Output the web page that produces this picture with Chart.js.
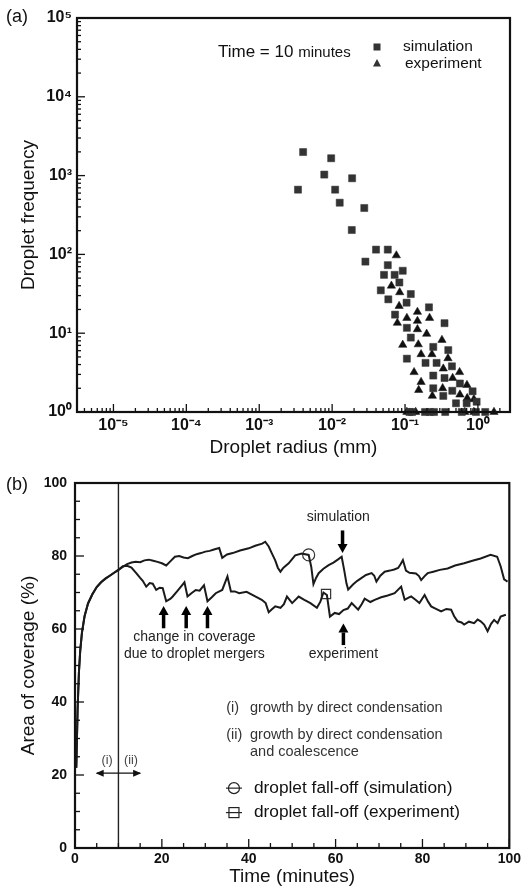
<!DOCTYPE html>
<html><head><meta charset="utf-8">
<script src="https://cdn.jsdelivr.net/npm/chart.js@4/dist/chart.umd.min.js"></script>
<style>
html,body{margin:0;padding:0;background:#fff;}
#wrap{position:relative;width:524px;height:890px;}
canvas{position:absolute;left:0;}
#ca{top:0}
#cb{top:465px}
</style></head><body>
<div id="wrap"><canvas id="ca" width="524" height="465"></canvas><canvas id="cb" width="524" height="425"></canvas></div>
<script>
const FONT = '"Liberation Sans", Arial, Helvetica, sans-serif';

// ---------- Panel (a) data ----------
const radiusTickValues = [1e-5, 1e-4, 1e-3, 1e-2, 1e-1, 1];
const radiusTickLabels = ['10⁻⁵', '10⁻⁴', '10⁻³', '10⁻²', '10⁻¹', '10⁰'];
const freqTickValues = [1, 10, 100, 1000, 10000, 100000];
const freqTickLabels = ['10⁰', '10¹', '10²', '10³', '10⁴', '10⁵'];

const simRadius = [0.0040, 0.0097, 0.0078, 0.0188, 0.0034, 0.011, 0.0127, 0.0276, 0.0186, 0.040, 0.058, 0.0286, 0.058, 0.0515, 0.072, 0.093, 0.0836, 0.0465, 0.12, 0.059, 0.105, 0.213, 0.073, 0.348, 0.106, 0.12, 0.244, 0.392, 0.106, 0.191, 0.271, 0.44, 0.244, 0.348, 0.566, 0.244, 0.445, 0.845, 0.335, 0.5, 0.7, 0.96, 0.115, 0.125, 0.188, 0.22, 0.25, 0.356, 0.60, 0.94, 1.26];
const simFreq   = [1990, 1660, 1030, 925, 663, 663, 453, 388, 204, 115, 115, 81, 73, 55, 55, 62, 44, 35, 31.4, 26.9, 24.4, 21.3, 17.2, 13.4, 11.7, 8.8, 6.7, 6.1, 4.75, 4.2, 4.2, 3.8, 2.9, 2.7, 2.3, 2.0, 1.86, 1.83, 1.6, 1.29, 1.29, 1.35, 1, 1, 1, 1, 1, 1, 1, 1, 1];
const expRadius = [0.076, 0.065, 0.0845, 0.083, 0.148, 0.106, 0.217, 0.0785, 0.148, 0.148, 0.198, 0.321, 0.093, 0.152, 0.166, 0.234, 0.388, 0.335, 0.133, 0.56, 0.45, 0.166, 0.707, 0.328, 0.154, 0.237, 0.566, 0.713, 0.88, 0.106, 0.14, 0.66, 0.88, 1.66];
const expFreq   = [97, 40, 33, 22.1, 18.6, 15.6, 15.6, 13.5, 14.3, 11.2, 9.8, 8.2, 7.1, 7.2, 5.4, 5.4, 4.8, 3.55, 3.2, 3.2, 2.7, 2.4, 2.2, 2.0, 1.9, 1.6, 1.66, 1.5, 1.45, 1, 1, 1, 1, 1];

// ---------- Panel (b) data ----------
const timeTickValues = [0, 20, 40, 60, 80, 100];
const coverTickValues = [0, 20, 40, 60, 80, 100];

const simTime = [0.3, 0.6, 0.9, 1.2, 1.6, 2.2, 3, 4, 5, 6, 7, 8, 9, 10, 11, 12, 13, 14, 15, 16, 17, 18, 19, 20, 21, 22, 23, 24, 25, 26, 27, 28, 29, 30, 31, 32, 33.2, 33.9, 35, 36.3, 38, 40, 41.5, 43.1, 43.8, 44.6, 45.3, 46.1, 46.7, 47.3, 48, 49.2, 50.7, 52.2, 53.8, 54.4, 54.9, 55.5, 56.1, 57.2, 58.4, 59.5, 60.5, 61.4, 62, 62.5, 62.9, 64, 65, 66, 67, 68.3, 68.9, 69.4, 70.3, 71.3, 72.5, 73.5, 74.4, 75, 75.5, 76.2, 77, 78.5, 79.2, 79.7, 80.5, 81.2, 82.5, 84, 85.8, 87.5, 89.6, 91.5, 93.4, 95.7, 97.2, 98, 98.8, 99.6];
const simCover = [22, 38, 48, 54, 59, 63.5, 67, 69.5, 71.5, 72.8, 73.8, 74.6, 75.4, 76.2, 77, 77.8, 78.2, 78.4, 78.3, 78.8, 79, 78.7, 78.4, 78, 77.4, 78.6, 79.8, 80, 79.6, 79.4, 80, 80.5, 80.8, 81.2, 81.4, 81.8, 82.2, 79.5, 80.4, 80.8, 81.5, 82.1, 82.8, 83.4, 83.9, 82.6, 80.8, 78.8, 76.8, 75.7, 76.8, 78, 80.2, 80.7, 80.3, 77, 72.3, 74, 75.3, 76.5, 77.5, 78.2, 79, 79.8, 76, 72.5, 70.8, 72.2, 73.2, 74, 74.8, 75.3, 74.6, 73, 74.6, 75.7, 76, 76.3, 76.7, 77.8, 78.9, 76, 75.4, 75.2, 74.5, 73.4, 74.5, 75.3, 75.7, 76.2, 76.6, 77.4, 78, 78.7, 79.3, 80.3, 79.8, 77.2, 73.6, 73];

const expTime = [0.3, 0.6, 0.9, 1.2, 1.6, 2.2, 3, 4, 5, 6, 7, 8, 9, 10, 11, 12, 13, 14.1, 15, 15.6, 16.4, 17.2, 17.9, 18.7, 19.5, 20.2, 21, 22, 22.5, 23.5, 24.4, 25.2, 25.9, 26.8, 27.8, 28.7, 29.7, 30.5, 31.5, 32.4, 33.9, 35.1, 35.9, 36.8, 37.8, 39.5, 41.6, 43, 43.9, 44.6, 45.4, 46.1, 47.3, 48.1, 48.8, 50, 51.5, 52.8, 54.2, 55.7, 56.5, 57.2, 58, 58.7, 59.8, 60.8, 61.8, 62.8, 63.7, 65.2, 66, 66.7, 68, 69, 70.5, 72, 73.6, 75.1, 75.9, 76.8, 77.4, 78.4, 79.3, 80.5, 81.3, 82, 83, 84.3, 85.5, 86.6, 87.3, 88.1, 89, 89.6, 90.7, 91.9, 92.7, 93.4, 94.2, 95, 95.8, 96.5, 97.3, 98, 99.2];
const expCover = [22, 38, 48, 54, 59, 63.5, 67, 69.5, 71.5, 72.8, 73.8, 74.6, 75.4, 76.2, 77.2, 77.3, 76.8, 75.3, 74, 73.2, 71.6, 72.6, 72.4, 70.7, 71.3, 71.2, 67.6, 68.3, 68.9, 70.3, 71.6, 72.8, 68.9, 69.8, 70.7, 70.5, 72, 67.6, 68.7, 69.8, 70.7, 74.4, 70.3, 70.3, 69.8, 70.2, 68.9, 68, 67.1, 64.6, 65.5, 66.2, 65.8, 66.8, 68.9, 67.1, 68.9, 68, 67.1, 65.8, 67.5, 70, 69.3, 63.4, 64.4, 64.1, 65.2, 65.6, 67.1, 65.3, 66.8, 68.3, 67.4, 68, 68.7, 69.2, 69.8, 71.6, 68, 68.6, 68.9, 68, 67.1, 69.3, 67.5, 66.2, 65.6, 64.8, 65.5, 65.3, 63.5, 62.1, 61.8, 61.2, 62, 61.6, 62.6, 62.1, 61.2, 59.4, 61.4, 62.5, 61.6, 63.4, 63.9];

const fallOffSim = [{x: 53.8, y: 80.3}];
const fallOffExp = [{x: 57.8, y: 69.6}];
const boundaryTime = 10;

// ---------- helpers ----------
function logTicks(min, max) {
  const out = [];
  for (let e = Math.floor(Math.log10(min)) - 1; e <= Math.ceil(Math.log10(max)); e++) {
    for (let m = 1; m <= 9; m++) {
      const v = m * Math.pow(10, e);
      if (v >= min * 0.9999 && v <= max * 1.0001) out.push({v, major: m === 1});
    }
  }
  return out;
}
function labelFor(values, labels, value) {
  const i = values.findIndex(v => Math.abs(Math.log10(v) - Math.log10(value)) < 1e-6);
  return i >= 0 ? labels[i] : '';
}
function arrow(ctx, x, yFrom, yTo) {
  const dir = yTo < yFrom ? -1 : 1;
  const head = 9;
  ctx.save();
  ctx.strokeStyle = '#000'; ctx.fillStyle = '#000';
  ctx.lineWidth = 3.5;
  ctx.beginPath(); ctx.moveTo(x, yFrom); ctx.lineTo(x, yTo - dir * head); ctx.stroke();
  ctx.beginPath();
  ctx.moveTo(x, yTo);
  ctx.lineTo(x - 5, yTo - dir * head);
  ctx.lineTo(x + 5, yTo - dir * head);
  ctx.closePath(); ctx.fill();
  ctx.restore();
}
function txt(ctx, s, x, y, size, align, color, weight) {
  ctx.font = (weight || '') + ' ' + size + 'px ' + FONT;
  ctx.textAlign = align || 'left';
  ctx.textBaseline = 'middle';
  ctx.fillStyle = color || '#111';
  ctx.fillText(s, x, y);
}

const titleFont = {family: FONT, size: 19};
const tickFont = {family: FONT, size: 14, weight: 'bold'};
const logTickFont = {family: FONT, size: 16, weight: 'bold'};

// ---------- Panel (a) ----------
const decoA = {
  id: 'decoA',
  afterDraw(chart) {
    const {ctx, chartArea: ca, scales: {x, y}} = chart;
    ctx.save();
    ctx.strokeStyle = '#111'; ctx.lineWidth = 1.3;
    logTicks(x.min, x.max).forEach(t => {
      const p = x.getPixelForValue(t.v);
      ctx.beginPath(); ctx.moveTo(p, ca.bottom); ctx.lineTo(p, ca.bottom - (t.major ? 8 : 4)); ctx.stroke();
    });
    logTicks(y.min, y.max).forEach(t => {
      const p = y.getPixelForValue(t.v);
      ctx.beginPath(); ctx.moveTo(ca.left, p); ctx.lineTo(ca.left + (t.major ? 8 : 4), p); ctx.stroke();
    });
    ctx.lineWidth = 2.2; ctx.strokeStyle = '#111';
    ctx.strokeRect(ca.left, ca.top, ca.right - ca.left, ca.bottom - ca.top);
    txt(ctx, '(a)', 6, 17, 18, 'left', '#111');
    txt(ctx, 'Time = 10', 218, 52, 17, 'left', '#111');
    ctx.font = '17px ' + FONT;
    const w = ctx.measureText('Time = 10 ').width;
    txt(ctx, 'minutes', 218 + w, 53, 15, 'left', '#111');
    // legend
    ctx.fillStyle = '#333';
    ctx.fillRect(373.5, 43.5, 7, 7);
    ctx.beginPath(); ctx.moveTo(377, 59); ctx.lineTo(381, 66.5); ctx.lineTo(373, 66.5); ctx.closePath(); ctx.fill();
    txt(ctx, 'simulation', 403, 47, 15.5, 'left', '#111');
    txt(ctx, 'experiment', 405, 64, 15.5, 'left', '#111');
    ctx.restore();
  }
};

new Chart(document.getElementById('ca'), {
  type: 'scatter',
  data: {
    datasets: [
      {label: 'simulation', data: simRadius.map((r, i) => ({x: r, y: simFreq[i]})),
       pointStyle: 'rect', pointRadius: 5, backgroundColor: '#333', borderColor: '#333', borderWidth: 0.5, clip: false},
      {label: 'experiment', data: expRadius.map((r, i) => ({x: r, y: expFreq[i]})),
       pointStyle: 'triangle', pointRadius: 4.8, backgroundColor: '#111', borderColor: '#111', borderWidth: 0.5, clip: false}
    ]
  },
  options: {
    responsive: false, animation: false,
    layout: {padding: {top: 18, right: 14, left: 0, bottom: 0}},
    plugins: {legend: {display: false}, tooltip: {enabled: false}},
    scales: {
      x: {
        type: 'logarithmic', min: Math.pow(10, -5.5), max: Math.pow(10, 0.44),
        afterBuildTicks: s => { s.ticks = radiusTickValues.map(v => ({value: v})); },
        afterFit: s => { s.height = 53; },
        grid: {display: false, drawTicks: false}, border: {display: false},
        ticks: {autoSkip: false, maxRotation: 0, padding: 4, color: '#111', font: logTickFont,
                callback: v => labelFor(radiusTickValues, radiusTickLabels, v)},
        title: {display: true, text: 'Droplet radius (mm)', color: '#111', font: titleFont, padding: {top: 0, bottom: 6}}
      },
      y: {
        type: 'logarithmic', min: 1, max: 100000,
        afterBuildTicks: s => { s.ticks = freqTickValues.map(v => ({value: v})); },
        afterFit: s => { s.width = 77; },
        grid: {display: false, drawTicks: false}, border: {display: false},
        ticks: {autoSkip: false, padding: 5, color: '#111', font: logTickFont,
                callback: v => labelFor(freqTickValues, freqTickLabels, v)},
        title: {display: true, text: 'Droplet frequency', color: '#111', font: titleFont, padding: {top: 17, bottom: 0}}
      }
    }
  },
  plugins: [decoA]
});

// ---------- Panel (b) ----------
const decoB = {
  id: 'decoB',
  afterDraw(chart) {
    const {ctx, chartArea: ca, scales: {x, y}} = chart;
    const X = v => x.getPixelForValue(v), Y = v => y.getPixelForValue(v);
    ctx.save();
    ctx.strokeStyle = '#111'; ctx.lineWidth = 1.3;
    for (let v = 0; v <= 100; v += 5) {
      const major = v % 20 === 0;
      const px = X(v);
      ctx.beginPath(); ctx.moveTo(px, ca.bottom); ctx.lineTo(px, ca.bottom - (major ? 9 : 5)); ctx.stroke();
      const py = Y(v);
      ctx.beginPath(); ctx.moveTo(ca.left, py); ctx.lineTo(ca.left + (major ? 9 : 5), py); ctx.stroke();
    }
    ctx.lineWidth = 2.2;
    ctx.strokeRect(ca.left, ca.top, ca.right - ca.left, ca.bottom - ca.top);

    txt(ctx, '(b)', 6, 20, 18, 'left', '#111');
    // annotations
    txt(ctx, 'simulation', X(60.6), Y(90.7), 14, 'center', '#222');
    arrow(ctx, X(61.6), Y(87), Y(80.8));
    [20.4, 25.6, 30.5].forEach(t => arrow(ctx, X(t), Y(60.2), Y(66.3)));
    txt(ctx, 'change in coverage', X(27.5), Y(57.9), 14, 'center', '#222');
    txt(ctx, 'due to droplet mergers', X(27.5), Y(53), 14, 'center', '#222');
    arrow(ctx, X(61.8), Y(55.6), Y(61.5));
    txt(ctx, 'experiment', X(61.8), Y(53), 14, 'center', '#222');

    // (i) / (ii) double arrow
    ctx.strokeStyle = '#111'; ctx.fillStyle = '#111'; ctx.lineWidth = 1.3;
    const ya = Y(20.5), xa = X(5), xb = X(15);
    ctx.beginPath(); ctx.moveTo(xa, ya); ctx.lineTo(xb, ya); ctx.stroke();
    ctx.beginPath(); ctx.moveTo(xa - 1, ya); ctx.lineTo(xa + 7, ya - 3.5); ctx.lineTo(xa + 7, ya + 3.5); ctx.closePath(); ctx.fill();
    ctx.beginPath(); ctx.moveTo(xb + 1, ya); ctx.lineTo(xb - 7, ya - 3.5); ctx.lineTo(xb - 7, ya + 3.5); ctx.closePath(); ctx.fill();
    txt(ctx, '(i)', X(7.4), Y(24), 12.5, 'center', '#444');
    txt(ctx, '(ii)', X(12.9), Y(24), 12.5, 'center', '#444');

    // explanation text
    txt(ctx, '(i)', X(34.8), Y(38.4), 14.5, 'left', '#333');
    txt(ctx, 'growth by direct condensation', X(40.3), Y(38.4), 14.5, 'left', '#333');
    txt(ctx, '(ii)', X(34.8), Y(31), 14.5, 'left', '#333');
    txt(ctx, 'growth by direct condensation', X(40.3), Y(31), 14.5, 'left', '#333');
    txt(ctx, 'and coalescence', X(40.3), Y(26.3), 14.5, 'left', '#333');

    // fall-off legend
    ctx.strokeStyle = '#222'; ctx.lineWidth = 1.2;
    const lx = X(36.6), l1 = Y(16.4), l2 = Y(9.7);
    ctx.beginPath(); ctx.arc(lx, l1, 5.5, 0, Math.PI * 2); ctx.stroke();
    ctx.beginPath(); ctx.moveTo(lx - 8, l1); ctx.lineTo(lx + 8, l1); ctx.stroke();
    ctx.strokeRect(lx - 5, l2 - 5, 10, 10);
    ctx.beginPath(); ctx.moveTo(lx - 8, l2); ctx.lineTo(lx + 8, l2); ctx.stroke();
    txt(ctx, 'droplet fall-off (simulation)', X(41.2), l1, 17.3, 'left', '#111');
    txt(ctx, 'droplet fall-off (experiment)', X(41.2), l2, 17.3, 'left', '#111');
    ctx.restore();
  }
};

new Chart(document.getElementById('cb'), {
  type: 'scatter',
  data: {
    datasets: [
      {label: 'simulation', data: simTime.map((t, i) => ({x: t, y: simCover[i]})),
       showLine: true, pointRadius: 0, borderColor: '#1a1a1a', borderWidth: 2, tension: 0},
      {label: 'experiment', data: expTime.map((t, i) => ({x: t, y: expCover[i]})),
       showLine: true, pointRadius: 0, borderColor: '#1a1a1a', borderWidth: 2, tension: 0},
      {label: 'boundary', data: [{x: boundaryTime, y: 0}, {x: boundaryTime, y: 100}],
       showLine: true, pointRadius: 0, borderColor: '#222', borderWidth: 1.4},
      {label: 'fall-off sim', data: fallOffSim, pointStyle: 'circle', pointRadius: 6,
       backgroundColor: 'rgba(0,0,0,0)', borderColor: '#333', borderWidth: 1.2},
      {label: 'fall-off exp', data: fallOffExp, pointStyle: 'rect', pointRadius: 6.5,
       backgroundColor: 'rgba(0,0,0,0)', borderColor: '#333', borderWidth: 1.2}
    ]
  },
  options: {
    responsive: false, animation: false,
    layout: {padding: {top: 18, right: 12, left: 0, bottom: 0}},
    plugins: {legend: {display: false}, tooltip: {enabled: false}},
    scales: {
      x: {
        type: 'linear', min: 0, max: 100,
        afterBuildTicks: s => { s.ticks = timeTickValues.map(v => ({value: v})); },
        afterFit: s => { s.height = 42; },
        grid: {display: false, drawTicks: false}, border: {display: false},
        ticks: {autoSkip: false, maxRotation: 0, padding: 3, color: '#111', font: tickFont},
        title: {display: true, text: 'Time (minutes)', color: '#111', font: titleFont, padding: {top: 0, bottom: 2}}
      },
      y: {
        type: 'linear', min: 0, max: 100,
        afterBuildTicks: s => { s.ticks = coverTickValues.map(v => ({value: v})); },
        afterFit: s => { s.width = 75; },
        grid: {display: false, drawTicks: false}, border: {display: false},
        ticks: {autoSkip: false, padding: 8, color: '#111', font: tickFont},
        title: {display: true, text: 'Area of coverage (%)', color: '#111', font: titleFont, padding: {top: 17, bottom: 0}}
      }
    }
  },
  plugins: [decoB]
});
</script>
</body></html>
